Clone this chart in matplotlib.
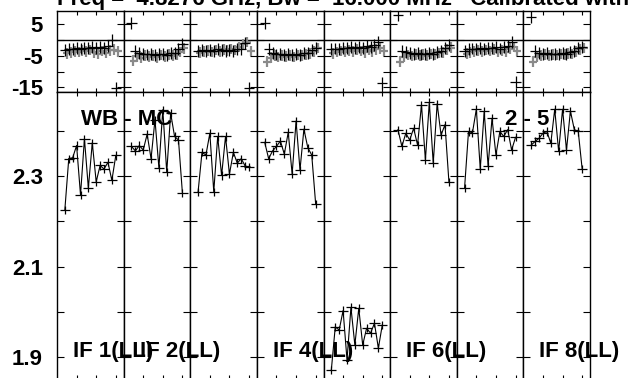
import matplotlib
matplotlib.use("Agg")
import matplotlib.pyplot as plt

plt.rcParams['font.family'] = ['Liberation Sans', 'DejaVu Sans']

channels = list(range(2, 16))
if_names = ["IF 1(LL)", "IF 2(LL)", "", "IF 4(LL)", "", "IF 6(LL)", "", "IF 8(LL)"]

amp = [
    [2.225, 2.338, 2.340, 2.367, 2.258, 2.382, 2.273, 2.373, 2.287, 2.323, 2.315, 2.330, 2.290, 2.345],
    [2.365, 2.355, 2.367, 2.357, 2.392, 2.338, 2.424, 2.318, 2.446, 2.308, 2.438, 2.387, 2.379, 2.262],
    [2.265, 2.352, 2.346, 2.394, 2.265, 2.387, 2.301, 2.387, 2.304, 2.352, 2.328, 2.338, 2.322, 2.319],
    [2.374, 2.338, 2.355, 2.365, 2.377, 2.348, 2.396, 2.304, 2.421, 2.313, 2.403, 2.362, 2.346, 2.238],
    [1.872, 1.967, 1.960, 2.003, 1.894, 2.010, 1.927, 2.008, 1.927, 1.964, 1.953, 1.975, 1.920, 1.971],
    [2.402, 2.365, 2.394, 2.379, 2.405, 2.368, 2.457, 2.335, 2.462, 2.328, 2.459, 2.390, 2.413, 2.287],
    [2.274, 2.398, 2.395, 2.447, 2.315, 2.442, 2.322, 2.427, 2.346, 2.398, 2.387, 2.402, 2.357, 2.385],
    [2.368, 2.376, 2.383, 2.394, 2.398, 2.372, 2.447, 2.354, 2.447, 2.357, 2.443, 2.402, 2.398, 2.315],
]

phase_black = [
    [-3.3, -3.0, -2.8, -2.6, -2.7, -2.4, -2.5, -2.3, -2.6, -2.2, -2.4, -1.8, -0.1, -15.3],
    [5.5, -3.4, -4.0, -4.3, -4.6, -4.4, -4.8, -4.5, -4.3, -4.7, -4.2, -4.0, -3.0, -1.4],
    [-3.6, -3.3, -3.5, -3.1, -3.4, -3.0, -3.3, -3.6, -3.2, -3.5, -3.0, -2.8, -1.0, -15.2],
    [5.5, -3.0, -4.2, -4.6, -4.3, -4.8, -4.5, -4.9, -4.4, -4.7, -4.2, -4.0, -3.3, -2.4],
    [-3.0, -2.7, -2.9, -2.5, -2.6, -2.3, -2.5, -2.2, -2.4, -2.0, -2.3, -1.5, -0.5, -13.7],
    [7.9, -3.4, -3.9, -4.2, -4.5, -4.1, -4.6, -4.3, -4.0, -4.4, -3.8, -3.6, -2.5, -1.6],
    [-3.4, -3.0, -2.7, -2.9, -2.5, -2.8, -2.4, -2.6, -2.3, -2.7, -2.1, -1.8, -0.5, -13.2],
    [7.4, -3.6, -4.0, -4.4, -4.2, -4.6, -4.3, -4.5, -4.1, -4.4, -3.9, -3.5, -2.4, -2.1],
]
phase_gray = [
    [-4.2, -3.9, -3.6, -3.8, -3.3, -3.6, -3.2, -3.9, -4.4, -3.5, -4.0, -3.3, -3.1, -3.6],
    [-6.6, -5.2, -5.6, -4.9, -5.3, -5.0, -5.5, -4.8, -5.2, -4.6, -5.0, -4.5, -3.8, -2.6],
    [-4.0, -3.7, -3.4, -3.8, -3.2, -3.6, -3.0, -3.4, -2.9, -3.2, -2.2, -1.4, -0.6, -3.5],
    [-6.9, -5.6, -5.0, -5.4, -4.9, -5.3, -5.0, -5.4, -4.8, -5.0, -4.5, -4.2, -3.6, -2.5],
    [-4.2, -3.8, -3.5, -3.7, -3.3, -3.6, -3.1, -3.5, -3.9, -3.2, -3.6, -3.0, -2.6, -3.4],
    [-6.9, -5.4, -4.8, -5.1, -4.6, -5.0, -4.7, -5.0, -4.4, -4.7, -4.1, -3.9, -3.0, -2.4],
    [-4.3, -3.9, -3.6, -3.3, -3.6, -3.2, -3.5, -3.1, -3.8, -3.3, -3.7, -2.7, -2.2, -3.5],
    [-6.9, -5.4, -5.0, -4.6, -4.9, -4.5, -4.8, -4.4, -4.6, -4.2, -4.4, -3.7, -3.0, -2.5],
]

amp_ticks = [1.9, 2.0, 2.1, 2.2, 2.3, 2.4]
amp_labels = ["1.9", "", "2.1", "", "2.3", ""]
ph_ticks = [-15, -10, -5, 0, 5]
ph_labels = ["-15", "", "-5", "", "5"]

W, H = 628, 378
fig = plt.figure(figsize=(W / 100, H / 100), dpi=100)

x0, x1 = 57, 590
pw = (x1 - x0) / 8
top_y0, top_y1 = 11, 92
bot_y0, bot_y1 = 92, 379

def style(ax, first):
    for s in ax.spines.values():
        s.set_linewidth(1.0)
        s.set_color('black')
    ax.set_xlim(0, 17)
    ax.set_xticks([5, 10, 15])
    ax.set_xticklabels([])
    ax.tick_params(axis='x', direction='in', length=3, width=0.8, top=True, bottom=True)
    ax.tick_params(axis='y', direction='in', length=5, width=0.8, left=True, right=True,
                   labelsize=16, pad=10)
    if not first:
        ax.tick_params(axis='y', labelleft=False)

for i in range(8):
    left = (x0 + i * pw) / W
    width = pw / W
    # phase panel
    axp = fig.add_axes([left, 1 - top_y1 / H, width, (top_y1 - top_y0) / H])
    axp.set_ylim(-16.5, 9.2)
    axp.set_yticks(ph_ticks)
    if i == 0:
        axp.set_yticklabels(ph_labels, fontweight='bold')
    axp.axhline(0, color='black', lw=1.0)
    xg = [c + 0.5 for c in channels]
    axp.errorbar(xg, phase_gray[i], xerr=1.0, yerr=1.7, fmt='none',
                 ecolor='#8a8a8a', elinewidth=1.6, capsize=0)
    axp.errorbar(channels, phase_black[i], xerr=1.3, yerr=1.9, fmt='none',
                 ecolor='black', elinewidth=0.9, capsize=0)
    style(axp, i == 0)

    # amplitude panel
    axa = fig.add_axes([left, 1 - bot_y1 / H, width, (bot_y1 - bot_y0) / H])
    axa.set_ylim(1.852, 2.485)
    axa.set_yticks(amp_ticks)
    if i == 0:
        axa.set_yticklabels(amp_labels, fontweight='bold')
    axa.plot(channels, amp[i], color='black', lw=0.8)
    axa.errorbar(channels, amp[i], xerr=1.3, yerr=0.009, fmt='none',
                 ecolor='black', elinewidth=0.9, capsize=0)
    style(axa, i == 0)
    axa.set_zorder(0)

# panel labels
for i, name in enumerate(if_names):
    if name:
        fig.text((x0 + i * pw + 16) / W, 1 - 357.5 / H, name, fontsize=16,
                 fontweight='bold', va='baseline', ha='left')

fig.text(81 / W, 1 - 125 / H, "WB - MC", fontsize=16, fontweight='bold',
         va='baseline', ha='left')
fig.text(505 / W, 1 - 125 / H, "2 - 5", fontsize=16, fontweight='bold',
         va='baseline', ha='left')
fig.text(57 / W, 1 - 5 / H, "Freq =  4.8276 GHz, Bw =  16.000 MHz   Calibrated with CL 3",
         fontsize=16, fontweight='bold', va='baseline', ha='left')

fig.savefig("out.png", dpi=100)
